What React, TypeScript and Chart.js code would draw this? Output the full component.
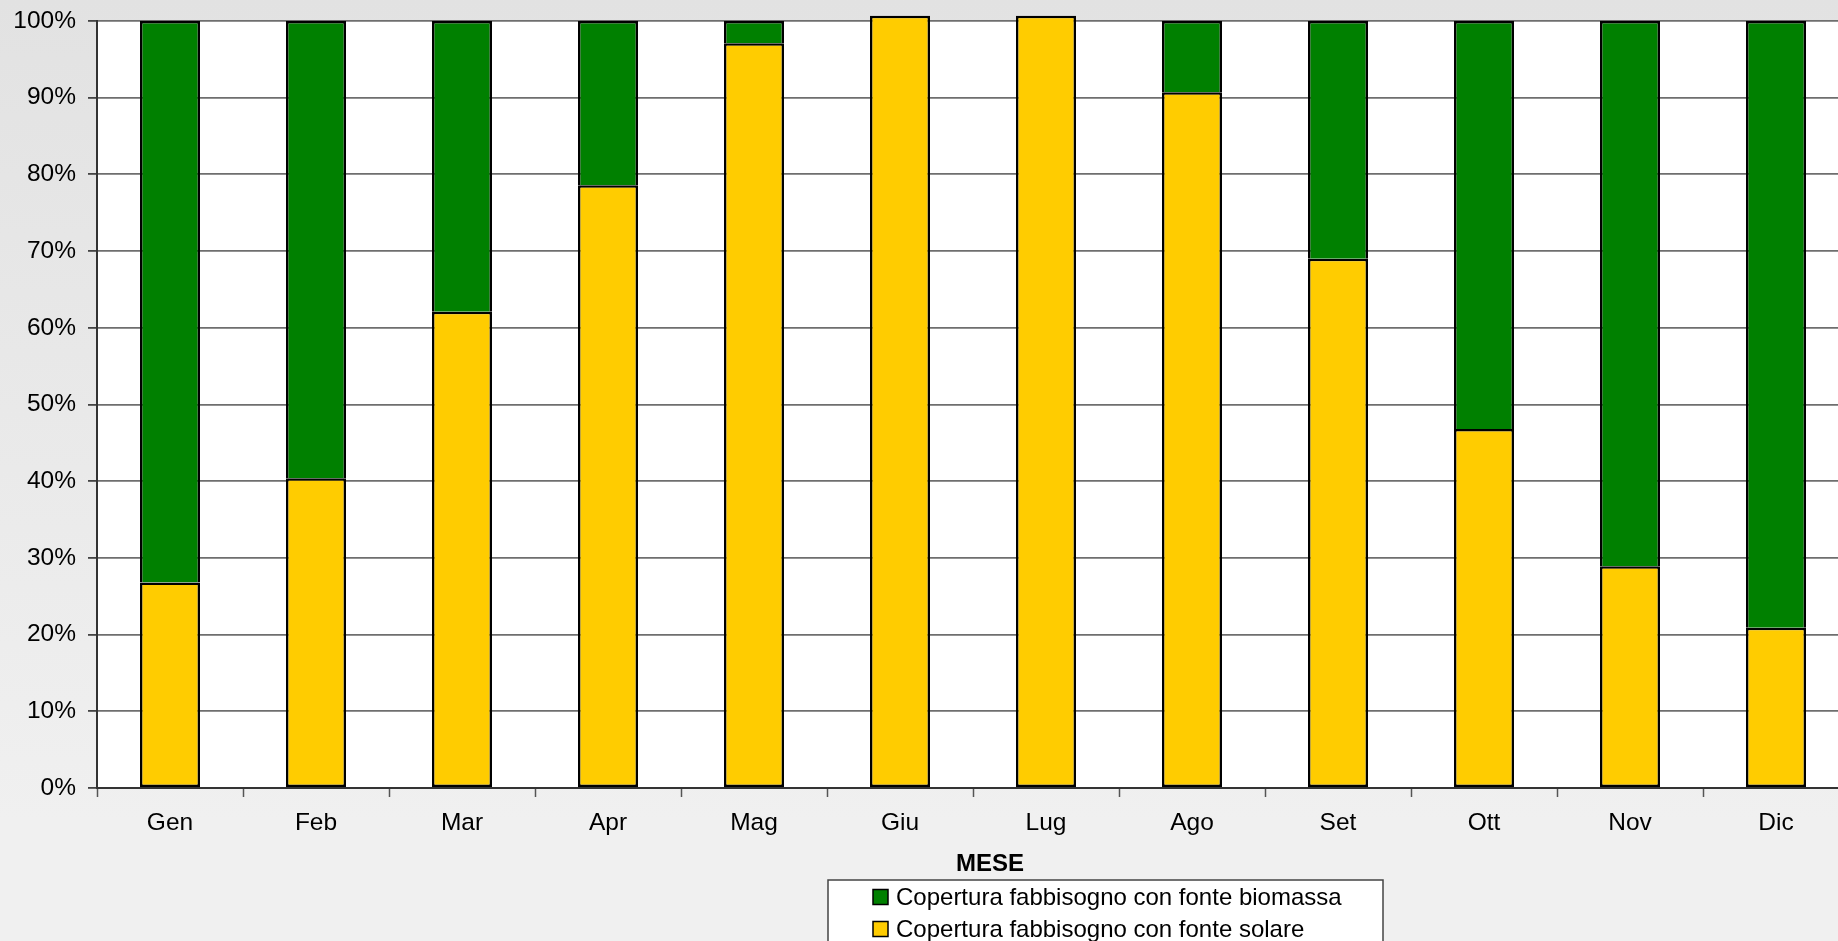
import React, { useEffect, useRef } from "react";
import { Chart, registerables } from "chart.js";

Chart.register(...registerables);

const months = ["Gen", "Feb", "Mar", "Apr", "Mag", "Giu", "Lug", "Ago", "Set", "Ott", "Nov", "Dic"];
const solare = [26.8, 40.4, 62.1, 78.6, 97.1, 100.7, 100.7, 90.7, 69.0, 46.8, 28.9, 20.9];
const biomassa = [73.2, 59.6, 37.9, 21.4, 2.9, 0, 0, 9.3, 31.0, 53.2, 71.1, 79.1];
const seriesLabels = ["Copertura fabbisogno con fonte solare", "Copertura fabbisogno con fonte biomassa"];
const seriesColors = ["#FFCC00", "#008000"];
const axisTitle = "MESE";

const FONT = '"Liberation Sans", Arial, Helvetica, sans-serif';
const W = 1880;
const H = 960;

const bgPlugin = {
  id: "bgPlugin",
  beforeDraw(chart: any) {
    const ctx = chart.ctx;
    ctx.save();
    const g = ctx.createLinearGradient(0, 0, 0, 820);
    g.addColorStop(0, "#e2e2e2");
    g.addColorStop(1, "#f0f0f0");
    ctx.fillStyle = g;
    ctx.fillRect(0, 0, chart.width, chart.height);
    const a = chart.chartArea;
    ctx.fillStyle = "#ffffff";
    ctx.fillRect(a.left, a.top, a.right - a.left, a.bottom - a.top);
    ctx.restore();
  },
};

const legendPlugin = {
  id: "boxLegend",
  afterDraw(chart: any) {
    const ctx = chart.ctx;
    ctx.save();
    ctx.font = `bold 24px ${FONT}`;
    ctx.fillStyle = "#000";
    ctx.textAlign = "center";
    ctx.textBaseline = "middle";
    ctx.fillText(axisTitle, 990, 864);
    const left = 828, top = 880, right = 1383;
    ctx.fillStyle = "#ffffff";
    ctx.fillRect(left, top, right - left, chart.height - top + 10);
    ctx.strokeStyle = "#444";
    ctx.lineWidth = 1.5;
    ctx.strokeRect(left, top, right - left, chart.height - top + 10);
    const ds = chart.data.datasets.slice().reverse();
    ds.forEach((d: any, i: number) => {
      const cy = 897 + i * 32;
      ctx.fillStyle = d.backgroundColor;
      ctx.fillRect(873, cy - 7.5, 15, 15);
      ctx.strokeStyle = "#000";
      ctx.lineWidth = 1.5;
      ctx.strokeRect(873, cy - 7.5, 15, 15);
      ctx.fillStyle = "#000";
      ctx.font = `24px ${FONT}`;
      ctx.textAlign = "left";
      ctx.textBaseline = "middle";
      ctx.fillText(d.label, 896, cy + 1);
    });
    ctx.restore();
  },
};

export default function App() {
  const ref = useRef<HTMLCanvasElement | null>(null);
  useEffect(() => {
    document.body.style.margin = "0";
    document.body.style.overflow = "hidden";
    const canvas = ref.current!;
    const chart = new Chart(canvas, {
      type: "bar",
      data: {
        labels: months,
        datasets: [
          {
            label: seriesLabels[0],
            data: solare,
            backgroundColor: seriesColors[0],
            borderColor: "#000",
            borderWidth: 2.5,
            borderSkipped: false,
            clip: false as any,
            barPercentage: 0.411,
            categoryPercentage: 1,
          },
          {
            label: seriesLabels[1],
            data: biomassa,
            backgroundColor: seriesColors[1],
            borderColor: "#000",
            borderWidth: 2.5,
            borderSkipped: "start",
            clip: false as any,
            barPercentage: 0.411,
            categoryPercentage: 1,
          },
        ],
      },
      options: {
        responsive: false,
        animation: false,
        devicePixelRatio: 1,
        layout: { padding: { top: 21, right: W - 1849, left: 0, bottom: 0 } },
        plugins: { legend: { display: false }, tooltip: { enabled: false }, title: { display: false } },
        scales: {
          x: {
            stacked: true,
            offset: true,
            grid: {
              display: true,
              offset: true,
              drawOnChartArea: false,
              drawTicks: true,
              tickLength: 9,
              tickColor: "#555",
              tickWidth: 1.5,
            },
            border: { display: true, color: "#333", width: 2 },
            ticks: { color: "#000", font: { family: FONT, size: 24.5 }, padding: 12, maxRotation: 0, autoSkip: false },
            afterFit(scale: any) {
              scale.height = H - 788;
            },
          },
          y: {
            stacked: true,
            min: 0,
            max: 100,
            ticks: {
              stepSize: 10,
              color: "#000",
              font: { family: FONT, size: 24.5, lineHeight: 0.7 },
              padding: 12,
              callback: (v: any) => `${v}%`,
            },
            grid: { color: "#6e6e6e", lineWidth: 1.8, tickLength: 9, tickColor: "#444", tickWidth: 1.8 },
            border: { display: true, color: "#333", width: 2 },
            afterFit(scale: any) {
              scale.width = 97;
            },
          },
        },
      },
      plugins: [bgPlugin, legendPlugin],
    });
    return () => chart.destroy();
  }, []);
  return (
    <div style={{ position: "fixed", left: 0, top: 0, width: W, height: H }}>
      <canvas ref={ref} width={W} height={H} style={{ display: "block" }} />
    </div>
  );
}
